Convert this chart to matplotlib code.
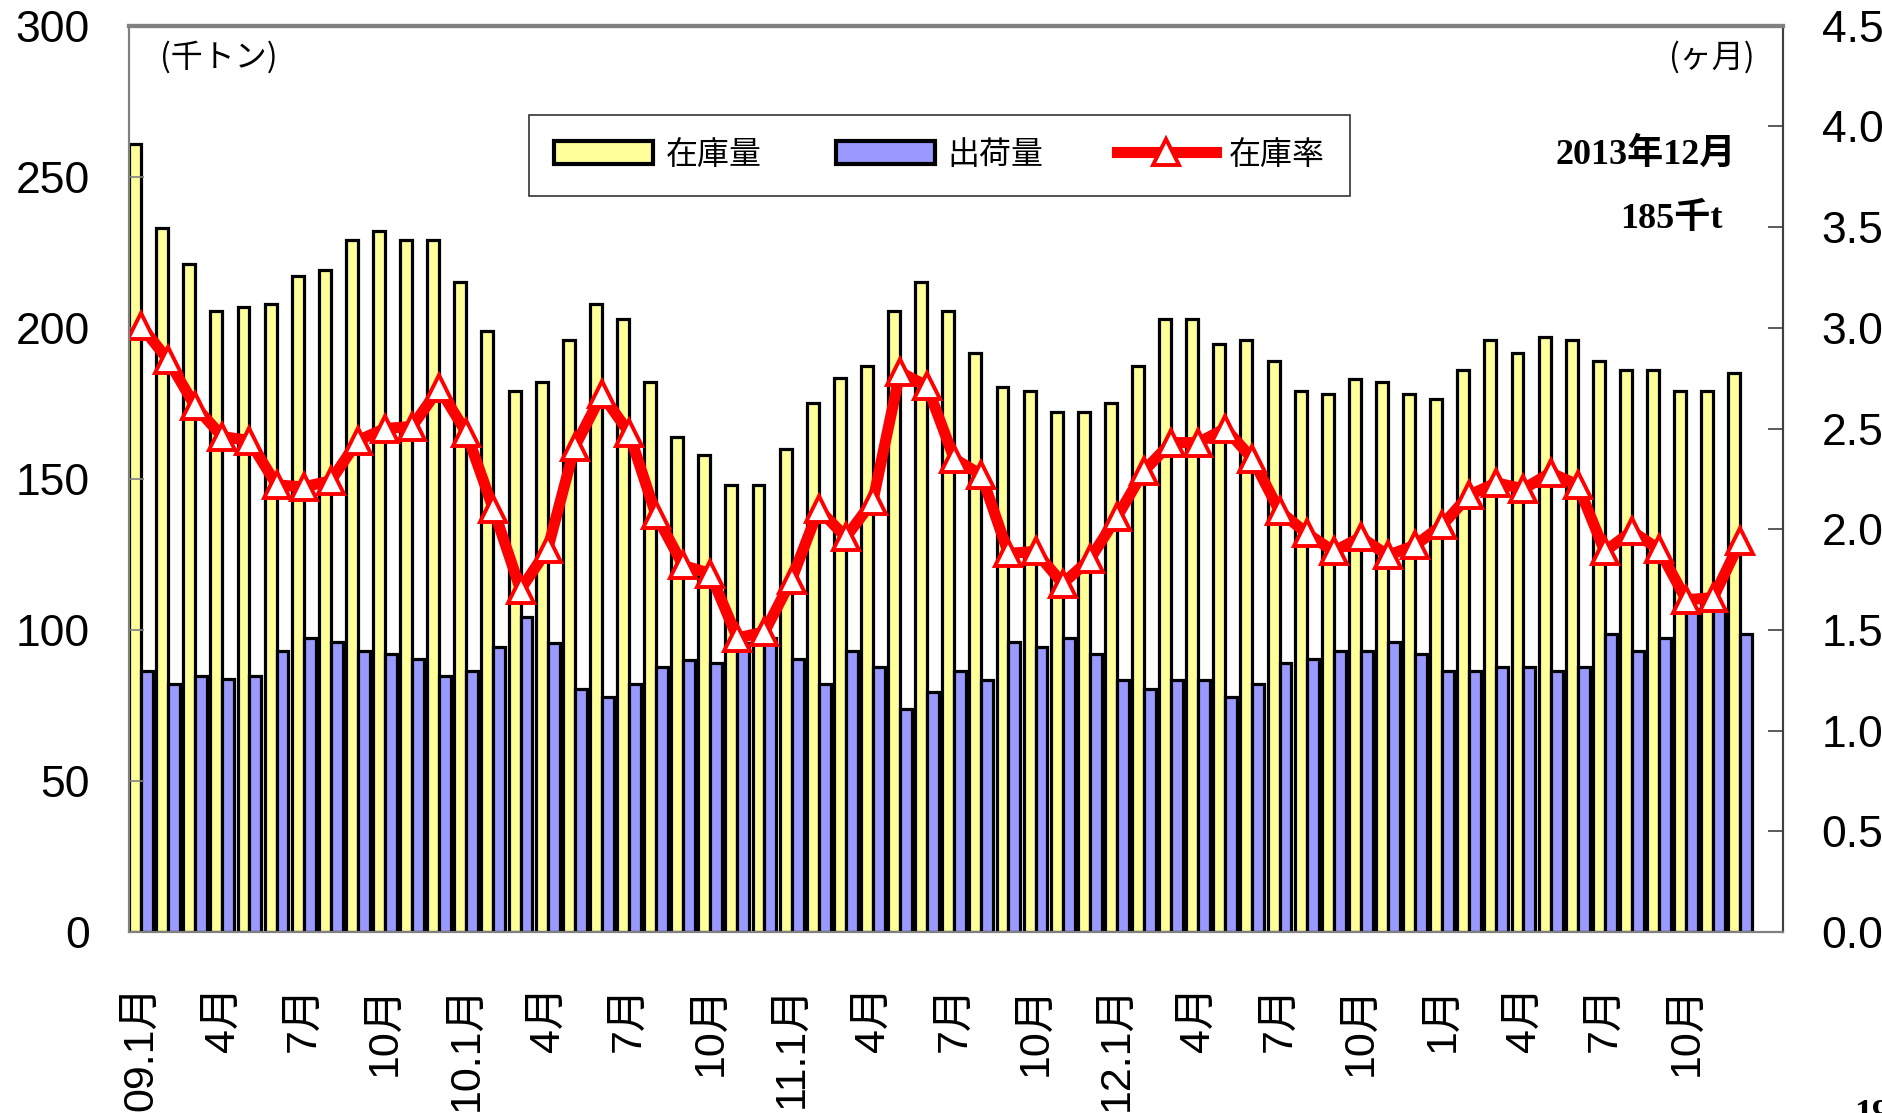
import matplotlib
matplotlib.use("Agg")
import matplotlib.pyplot as plt
import numpy as np
from matplotlib.ticker import FormatStrFormatter

# monthly data 2009.1 - 2013.12
inventory = [261, 233, 221, 205.5, 207, 208, 217, 219, 229, 232, 229, 229,
             215, 199, 179, 182, 196, 208, 203, 182, 164, 158, 148, 148,
             160, 175, 183.5, 187.5, 205.5, 215, 205.5, 191.5, 180.5, 179, 172, 172,
             175, 187.5, 203, 203, 194.5, 196, 189, 179, 178, 183, 182, 178,
             176.5, 186, 196, 191.5, 197, 196, 189, 186, 186, 179, 179, 185]
shipments = [86.3, 82.1, 84.8, 83.6, 84.8, 93.1, 97.2, 96, 93.1, 91.9, 90.3, 84.8,
             86.3, 94.5, 104.2, 95.8, 80.6, 77.8, 82.1, 87.6, 90.2, 89.1, 95.8, 97.2,
             90.3, 82.1, 93.1, 87.6, 73.7, 79.4, 86.3, 83.4, 96, 94.5, 97.2, 91.9,
             83.4, 80.6, 83.4, 83.4, 77.8, 82.1, 89.1, 90.3, 93.1, 93.1, 96, 91.9,
             86.3, 86.3, 87.6, 87.6, 86.3, 87.6, 98.8, 93.1, 97.2, 106.9, 106.9, 98.8]
ratio = [3.01, 2.84, 2.61, 2.46, 2.44, 2.22, 2.21, 2.24, 2.44, 2.50, 2.51, 2.70,
         2.48, 2.10, 1.70, 1.90, 2.41, 2.67, 2.48, 2.07, 1.82, 1.78, 1.46, 1.49,
         1.75, 2.10, 1.96, 2.14, 2.78, 2.71, 2.35, 2.27, 1.88, 1.89, 1.73, 1.85,
         2.06, 2.29, 2.43, 2.43, 2.50, 2.35, 2.09, 1.98, 1.89, 1.96, 1.87, 1.92,
         2.02, 2.17, 2.23, 2.20, 2.28, 2.22, 1.89, 1.99, 1.90, 1.65, 1.66, 1.94]
tick_labels = ["09.1月", "4月", "7月", "10月", "10.1月", "4月", "7月", "10月",
               "11.1月", "4月", "7月", "10月", "12.1月", "4月", "7月", "10月",
               "1月", "4月", "7月", "10月"]

plt.rcParams['font.family'] = ['Liberation Sans', 'Noto Sans CJK JP']

fig = plt.figure(figsize=(18.82, 11.13), dpi=100)
ax = fig.add_axes([0.0683, 0.1626, 0.8789, 0.8143])

x = np.arange(len(inventory))
w = 0.44
ax.bar(x - w / 2, inventory, w, color='#FFFF99', edgecolor='black', linewidth=2.3, label='在庫量')
ax.bar(x + w / 2, shipments, w, color='#9999FF', edgecolor='black', linewidth=2.3, label='出荷量')
ax.set_ylim(0, 300)
ax.set_xlim(-0.46, 60.56)
ax.set_xticks(x[::3])
ax.set_xticklabels(tick_labels)
ax.tick_params(axis='x', length=0, pad=38, labelsize=31, labelrotation=90)
ax.tick_params(axis='y', direction='in', length=11, width=1.2, color='#808080',
               labelsize=32, pad=28)

ax2 = ax.twinx()
ax2.plot(x, ratio, color='red', lw=8, marker='^', ms=19, mfc='white', mec='red',
         mew=2.8, label='在庫率')
ax2.set_ylim(0, 4.5)
ax2.set_yticks(np.arange(0, 4.51, 0.5))
ax2.yaxis.set_major_formatter(FormatStrFormatter('%.1f'))
ax2.tick_params(axis='y', direction='in', length=11, width=1.2, color='#404040',
                labelsize=32, pad=28)

for a in (ax, ax2):
    for s in a.spines.values():
        s.set_color('#808080')
        s.set_linewidth(1.5)
    a.spines['top'].set_linewidth(3)
    a.spines['right'].set_color('#404040')

h1, l1 = ax.get_legend_handles_labels()
h2, l2 = ax2.get_legend_handles_labels()
leg = ax2.legend(h1 + h2, l1 + l2, loc='upper left', bbox_to_anchor=(0.242, 0.9015),
                 borderaxespad=0, ncol=3, fontsize=23, handlelength=3.1,
                 handletextpad=0.4, columnspacing=2.3, borderpad=0.8,
                 fancybox=False, frameon=True, edgecolor='black')
leg.get_frame().set_linewidth(1.2)
for p in leg.get_patches():
    p.set_linewidth(3)

ax.text(0.019, 0.9655, '(千トン)', transform=ax.transAxes, fontsize=23,
        ha='left', va='center', family=['Noto Sans CJK JP'])
ax.text(0.983, 0.9655, '(ヶ月)', transform=ax.transAxes, fontsize=23,
        ha='right', va='center', family=['Noto Sans CJK JP'])
serif = ['Liberation Serif', 'Noto Sans CJK JP']
ax.text(0.972, 0.858, '2013年12月', transform=ax.transAxes, fontsize=26,
        ha='right', va='center', fontweight='bold', family=serif)
ax.text(0.964, 0.786, '185千t', transform=ax.transAxes, fontsize=26,
        ha='right', va='center', fontweight='bold', family=serif)

fig.text(1854 / 1882, 1 - 1099 / 1113, '19', fontsize=26, fontweight='bold',
         ha='left', va='top', family=serif)

fig.savefig('out.png', dpi=100)
